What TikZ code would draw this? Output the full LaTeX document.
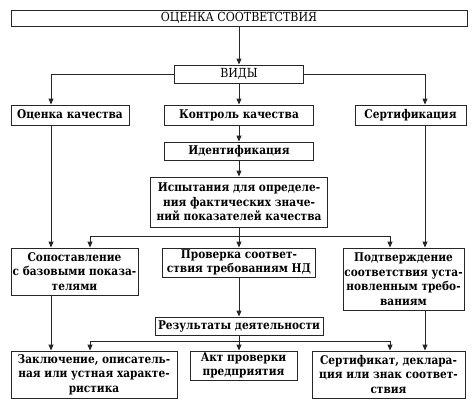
\documentclass[tikz,border=0pt]{standalone}
\usepackage{fontspec}
\setmainfont{DejaVu Serif}[FakeStretch=0.88]
\usetikzlibrary{arrows.meta,positioning}
\tikzset{
    >={Stealth[length=6pt,width=5pt,inset=0pt]},
    box/.style={
        rectangle,
        draw=black!85, line width=0.9pt,
        align=center,
        inner sep=1pt,
        font={\fontsize{12pt}{14.5pt}\selectfont\bfseries}
    },
    plainbox/.style={
        box,
        font={\fontsize{12.5pt}{14.5pt}\selectfont}
    },
    line/.style={draw=black!85, line width=0.9pt},
    arr/.style={line, ->},
}
\begin{document}
\begin{tikzpicture}[x=1pt, y=-1pt]
\useasboundingbox (0,0) rectangle (474,407);

% columns and bus lines
\coordinate (lcol) at (51,0);
\coordinate (rcol) at (425,0);
\coordinate (lb) at (90,0);
\coordinate (rb) at (390,0);
\coordinate (bus1) at (0,236);
\coordinate (bus2) at (0,341);

\node [plainbox, minimum width=456, minimum height=16] (ocs) at (239,18) {ОЦЕНКА СООТВЕТСТВИЯ};
\node [plainbox, minimum width=129, minimum height=18] (vidy) at (239,74) {ВИДЫ};

\node [box, minimum width=118, minimum height=20] (ocenka) at (70,115) {Оценка качества};
\node [box, minimum width=149, minimum height=20] (kontrol) at (239,115) {Контроль качества};
\node [box, minimum width=111, minimum height=20] (sertif) at (410.5,115) {Сертификация};

\node [box, minimum width=149, minimum height=18] (ident) at (239,151) {Идентификация};
\node [box, minimum width=177, minimum height=50] (isp) at (239,202)
  {Испытания для определе-\\ния фактических значе-\\ний показателей качества};

\node [box, minimum width=127, minimum height=47] (sopost) at (74.5,271.5)
  {Сопоставление\\с базовыми показа-\\телями};
\node [box, minimum width=153, minimum height=29] (prov) at (239,262.5)
  {Проверка соответ-\\ствия требованиям НД};
\node [box, minimum width=121, minimum height=62] (podtv) at (403.5,279)
  {Подтверждение\\соответствия уста-\\новленным требо-\\ваниям};

\node [box, minimum width=168, minimum height=18] (rez) at (239,326) {Результаты деятельности};

\node [box, minimum width=166, minimum height=47] (zakl) at (94,374.5)
  {Заключение, описатель-\\ная или устная характе-\\ристика};
\node [box, minimum width=107, minimum height=29] (akt) at (243.5,365.5)
  {Акт проверки\\предприятия};
\node [box, minimum width=153, minimum height=47] (sertdoc) at (388.5,374.5)
  {Сертификат, деклара-\\ция или знак соответ-\\ствия};

% arrows
\draw [arr] (ocs) -- (vidy);
\draw [arr] (vidy.west) -| (ocenka.north -| lcol);
\draw [arr] (vidy.east) -| (sertif.north -| rcol);
\draw [arr] (vidy) -- (kontrol);
\draw [arr] (kontrol) -- (ident);
\draw [arr] (ident) -- (isp);
\draw [arr] (isp) -- (prov);
\draw [line] (lb |- bus1) -- (rb |- bus1);
\foreach \n/\col in {sopost/lb, podtv/rb}
  \draw [arr] (\col |- bus1) -- (\col |- \n.north);
\draw [arr] (ocenka.south -| lcol) -- (sopost.north -| lcol);
\draw [arr] (sertif.south -| rcol) -- (podtv.north -| rcol);

\draw [arr] (prov) -- (rez);
\draw [line] (lb |- bus2) -- (rb |- bus2);
\foreach \n/\col in {zakl/lb, sertdoc/rb}
  \draw [arr] (\col |- bus2) -- (\col |- \n.north);
\draw [arr] (rez.south) -- (rez.south |- akt.north);
\draw [arr] (sopost.south -| lcol) -- (zakl.north -| lcol);
\draw [arr] (podtv.south -| rcol) -- (sertdoc.north -| rcol);

\end{tikzpicture}
\end{document}
